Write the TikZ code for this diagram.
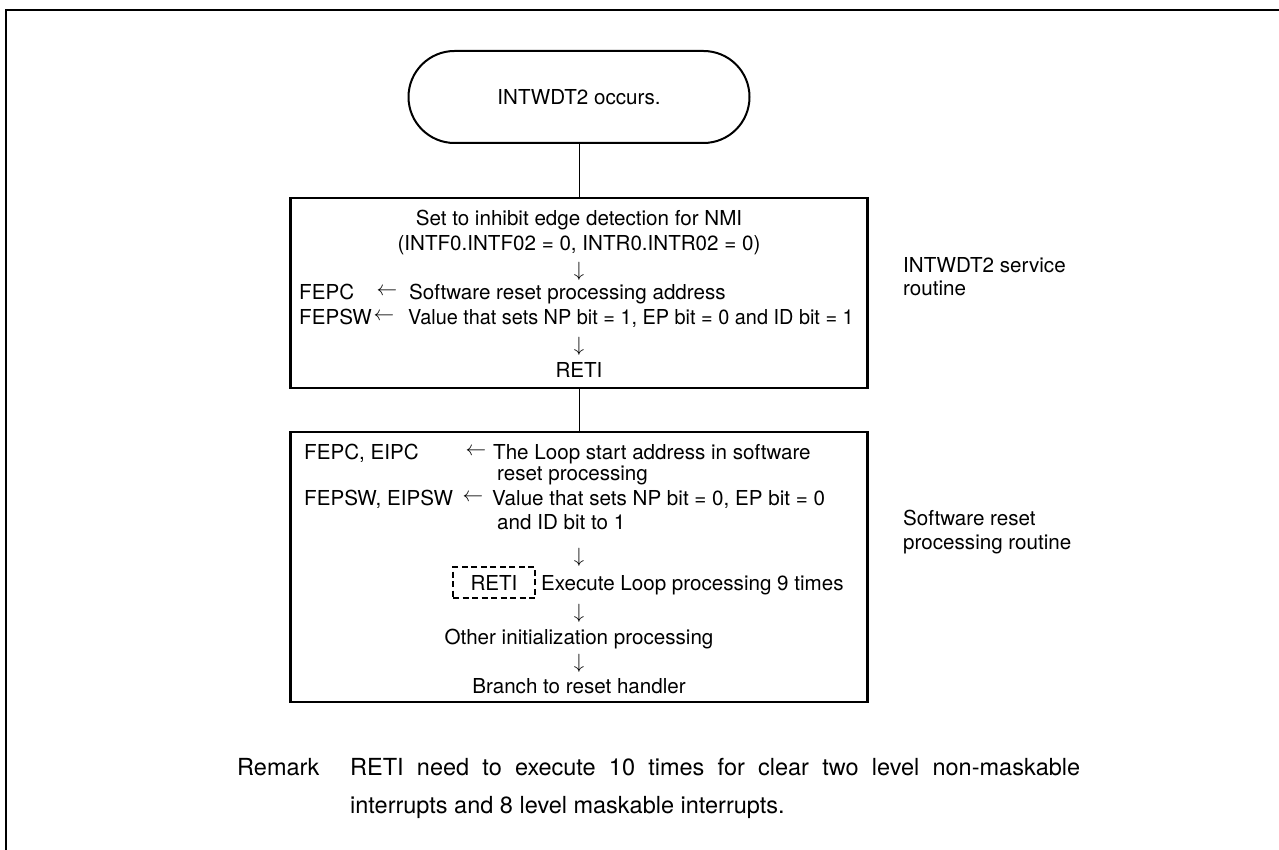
\RequirePackage{fix-cm}
\documentclass[tikz,border=0pt]{standalone}
\usepackage{fontspec}
\setmainfont{TeX Gyre Heros}
\usetikzlibrary{shapes.misc}
\newcommand{\dfont}{\fontsize{20.6}{24}\selectfont}
\tikzset{
  txt/.style={inner sep=0pt, font=\dfont, anchor=base},
  txtw/.style={txt, anchor=base west},
  arr/.style={inner sep=0pt, font=\dfont},
  rmk/.style={inner sep=0pt, font=\fontsize{23.5}{28}\selectfont, anchor=base west},
  procbox/.style={draw, line width=2.2pt, rectangle, inner sep=0pt, minimum width=577pt},
  termbox/.style={draw, line width=2pt, rounded rectangle, rounded rectangle arc length=180,
    minimum width=341pt, minimum height=92pt, inner sep=0pt},
  conn/.style={line width=1pt},
  dashbox/.style={draw, line width=2.4pt, dash pattern=on 6pt off 3.5pt, inner sep=0pt,
    minimum width=82pt, minimum height=31pt, text height=15pt, text depth=0pt,
    font=\dfont}
}
\begin{document}
\begin{tikzpicture}[x=1pt,y=-1pt]
\useasboundingbox (0,0) rectangle (1279,850);
% frame
\draw[line width=2.8pt, line join=miter] (6,850) -- (6,10) -- (1280,10);

% terminal
\node[termbox] (term) at (579,97) {};
\node[txt] (termtxt) at (579,104.5) {INTWDT2 occurs.};

% box 1
\node[procbox, minimum height=190pt] (box1) at (579,293) {};
\node[txt] (b1l1) at (579,225.5) {Set to inhibit edge detection for NMI};
\node[txt] (b1l2) at (579,250.5) {(INTF0.INTF02 = 0, INTR0.INTR02 = 0)};
\node[arr] (b1a1) at (579,271) {$\downarrow$};
\node[txtw] (b1l3a) at (299,299.5) {FEPC};
\node[arr] (b1l3b) at (387,292) {$\leftarrow$};
\node[txtw] (b1l3c) at (409,299.5) {Software reset processing address};
\node[txtw] (b1l4a) at (299,324.5) {FEPSW};
\node[arr] (b1l4b) at (384,317) {$\leftarrow$};
\node[txtw] (b1l4c) at (408,324.5) {\scalebox{0.965}[1]{Value that sets NP bit = 1, EP bit = 0 and ID bit = 1}};
\node[arr] (b1a2) at (579,346) {$\downarrow$};
\node[txt] (b1l5) at (579,377.5) {RETI};

% box 2
\node[procbox, minimum height=270pt] (box2) at (579,567) {};
\node[txtw] (b2l1a) at (304,459.5) {FEPC, EIPC};
\node[arr] (b2l1b) at (476,452) {$\leftarrow$};
\node[txtw] (b2l1c) at (493,459.5) {The Loop start address in software};
\node[txtw] (b2l2) at (497,480.5) {reset processing};
\node[txtw] (b2l3a) at (304,505.5) {FEPSW, EIPSW};
\node[arr] (b2l3b) at (473,498) {$\leftarrow$};
\node[txtw] (b2l3c) at (492,505.5) {Value that sets NP bit = 0, EP bit = 0};
\node[txtw] (b2l4) at (497,529.5) {and ID bit to 1};
\node[arr] (b2a1) at (579,557) {$\downarrow$};
\node[dashbox] (reti) at (494,582.5) {RETI};
\node[txtw] (b2l5) at (541,590.5) {Execute Loop processing 9 times};
\node[arr] (b2a2) at (579,613) {$\downarrow$};
\node[txt] (b2l6) at (579,644) {Other initialization processing};
\node[arr] (b2a3) at (579,663) {$\downarrow$};
\node[txt] (b2l7) at (579,693.5) {Branch to reset handler};

% connectors
\draw[conn] (term.south) -- (box1.north);
\draw[conn] (box1.south) -- (box2.north);

% side labels
\node[txtw] (s1a) at (903,272.5) {INTWDT2 service};
\node[txtw] (s1b) at (903,295.5) {routine};
\node[txtw] (s2a) at (903,525.5) {Software reset};
\node[txtw] (s2b) at (903,549) {processing routine};

% remark
\node[rmk] (rm0) at (237,775.5) {Remark};
\node[rmk] (rm1) at (350,775.5) {\makebox[730pt][s]{RETI need to execute 10 times for clear two level non-maskable}};
\node[rmk] (rm2) at (350,813.5) {interrupts and 8 level maskable interrupts.};
\end{tikzpicture}
\end{document}
